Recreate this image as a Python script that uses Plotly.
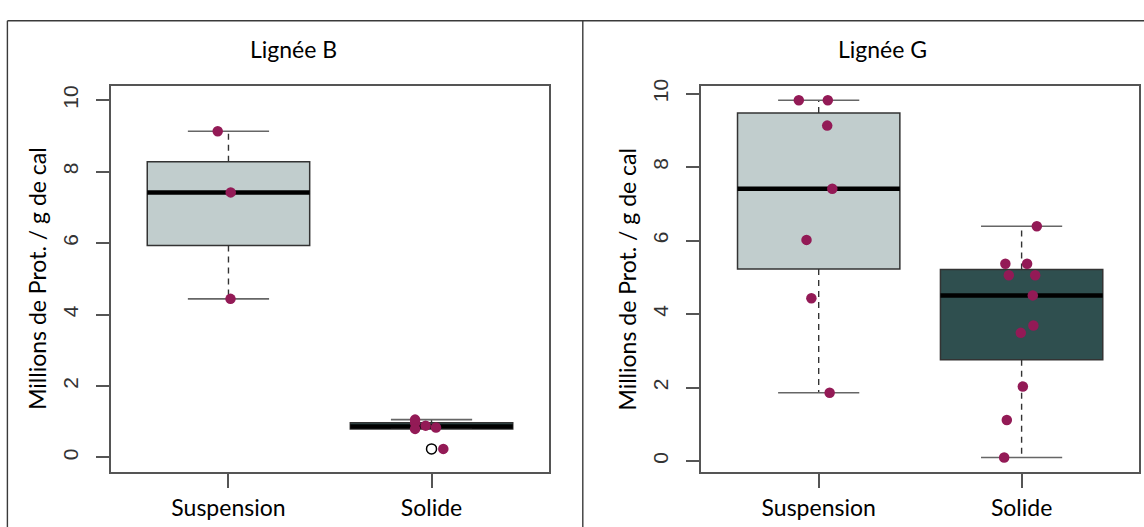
import numpy as np
import plotly.graph_objects as go

# ---------------- data ----------------
categories = ["Suspension", "Solide"]
panel_titles = ["Lignée B", "Lignée G"]
y_title = "Millions de Prot. / g de cal"
y_ticks = [0, 2, 4, 6, 8, 10]

b_suspension = [9.13, 7.42, 4.44]
b_solide = [1.06, 0.97, 0.80, 0.89, 0.84, 0.24]
g_suspension = [9.82, 9.82, 9.13, 7.41, 6.02, 4.43, 1.86]
g_solide = [6.39, 5.37, 5.37, 5.06, 5.06, 4.51, 3.69, 3.49, 2.03, 1.12, 0.10]

# horizontal jitter of the overlaid points (category units)
b_suspension_jitter = [-0.053, 0.011, 0.010]
b_solide_jitter = [-0.081, -0.081, -0.081, -0.029, 0.022, 0.058]
g_suspension_jitter = [-0.098, 0.045, 0.042, 0.067, -0.060, -0.036, 0.054]
g_solide_jitter = [0.075, -0.080, 0.027, -0.063, 0.067, 0.055, 0.058,
                   -0.004, 0.006, -0.073, -0.086]

panels = [
    [(b_suspension, b_suspension_jitter), (b_solide, b_solide_jitter)],
    [(g_suspension, g_suspension_jitter), (g_solide, g_solide_jitter)],
]
y_ranges = [[-0.4, 10.4], [-0.289, 10.209]]

# ---------------- style ----------------
W, H = 1144, 527
box_fill = ["#C1CDCD", "#2F4F4F"]
dot_color = "#931A56"
box_line = "#333333"
frame_col = "#555555"
TXT_FONT = "Lato"
NUM_FONT = "Liberation Sans"
plot_x = [(110.7, 549.3), (701.0, 1139.3)]
plot_top, plot_bot = 80.0, 471.0
title_x = [293.3, 882.5]
ytitle_x = [37.0, 626.7]
BOXW = 0.8


def tukey_stats(values):
    v = np.sort(np.asarray(values, dtype=float))
    n = len(v)
    n4 = np.floor((n + 3) / 2) / 2
    d = np.array([1, n4, (n + 1) / 2, n + 1 - n4, n]) - 1
    five = 0.5 * (v[np.floor(d).astype(int)] + v[np.ceil(d).astype(int)])
    lo_h, med, hi_h = five[1], five[2], five[3]
    iqr = hi_h - lo_h
    lo_f, hi_f = lo_h - 1.5 * iqr, hi_h + 1.5 * iqr
    inside = v[(v >= lo_f) & (v <= hi_f)]
    out = v[(v < lo_f) | (v > hi_f)]
    return lo_h, med, hi_h, inside.min(), inside.max(), out


fig = go.Figure()
for p, groups in enumerate(panels):
    xa = "x" if p == 0 else "x2"
    ya = "y" if p == 0 else "y2"
    for j, (vals, jit) in enumerate(groups):
        pos = j + 1
        lo_h, med, hi_h, w_lo, w_hi, out = tukey_stats(vals)
        # dashed whiskers
        fig.add_trace(go.Scatter(
            x=[pos, pos, None, pos, pos], y=[hi_h, w_hi, None, lo_h, w_lo],
            mode="lines", line=dict(color="#333333", width=1.4, dash="6px,5px"),
            xaxis=xa, yaxis=ya, hoverinfo="skip", showlegend=False))
        # staples
        fig.add_trace(go.Scatter(
            x=[pos - BOXW / 4, pos + BOXW / 4, None, pos - BOXW / 4, pos + BOXW / 4],
            y=[w_hi, w_hi, None, w_lo, w_lo],
            mode="lines", line=dict(color="#666666", width=1.6),
            xaxis=xa, yaxis=ya, hoverinfo="skip", showlegend=False))
        # box
        fig.add_trace(go.Box(
            x=[pos], q1=[lo_h], median=[med], q3=[hi_h],
            lowerfence=[lo_h], upperfence=[hi_h], width=BOXW, whiskerwidth=0,
            fillcolor=box_fill[j], line=dict(color=box_line, width=1.5),
            boxpoints=False, xaxis=xa, yaxis=ya, hoverinfo="skip", showlegend=False))
        # median
        fig.add_trace(go.Scatter(
            x=[pos - BOXW / 2, pos + BOXW / 2], y=[med, med], mode="lines",
            line=dict(color="black", width=4.5),
            xaxis=xa, yaxis=ya, hoverinfo="skip", showlegend=False))
        # outliers
        if len(out):
            fig.add_trace(go.Scatter(
                x=[pos] * len(out), y=list(out), mode="markers",
                marker=dict(symbol="circle-open", size=10, color="black",
                            line=dict(width=1.5, color="black")),
                xaxis=xa, yaxis=ya, hoverinfo="skip", showlegend=False))
        # jittered points
        fig.add_trace(go.Scatter(
            x=[pos + o for o in jit], y=vals, mode="markers",
            marker=dict(size=10.5, color=dot_color),
            xaxis=xa, yaxis=ya, hoverinfo="skip", showlegend=False))

ydom = [1 - plot_bot / H, 1 - plot_top / H]
axis_common = dict(showline=True, mirror=True, linecolor=frame_col, linewidth=1.5,
                   showgrid=False, zeroline=False, ticks="outside",
                   tickcolor=frame_col, tickwidth=1.5)
layout_axes = {}
for p in range(2):
    sfx = "" if p == 0 else "2"
    layout_axes["xaxis" + sfx] = dict(
        axis_common, domain=[plot_x[p][0] / W, plot_x[p][1] / W], range=[0.42, 2.58],
        tickvals=[1, 2], ticktext=categories, ticklen=15,
        tickfont=dict(family=TXT_FONT, size=23, color="black"),
        ticklabelstandoff=0, anchor="y" + sfx, fixedrange=True)
    layout_axes["yaxis" + sfx] = dict(
        axis_common, domain=ydom, range=y_ranges[p], tickvals=y_ticks,
        ticktext=[str(t) for t in y_ticks], ticklen=13, tickangle=-90,
        tickfont=dict(family=NUM_FONT, size=21, color="#333333"),
        ticklabelstandoff=10, anchor="x" + sfx, fixedrange=True)

annotations = []
for p in range(2):
    annotations.append(dict(
        text=panel_titles[p], x=title_x[p] / W, y=1 - 43 / H, xref="paper", yref="paper",
        xanchor="center", yanchor="middle", showarrow=False,
        font=dict(family=TXT_FONT, size=23, color="black")))
    annotations.append(dict(
        text=y_title, x=ytitle_x[p] / W, y=1 - (plot_top + plot_bot) / 2 / H,
        xref="paper", yref="paper", xanchor="center", yanchor="middle",
        textangle=-90, showarrow=False,
        font=dict(family=TXT_FONT, size=23, color="black")))

frame = dict(type="line", xref="paper", yref="paper",
             line=dict(color="#3a3a3a", width=1.4))
shapes = [
    dict(frame, x0=7.4 / W, x1=1, y0=1 - 14 / H, y1=1 - 14 / H),
    dict(frame, x0=7.4 / W, x1=7.4 / W, y0=0, y1=1 - 14 / H),
    dict(frame, x0=582.8 / W, x1=582.8 / W, y0=0, y1=1 - 14 / H),
]

fig.update_layout(
    width=W, height=H, margin=dict(l=0, r=0, t=0, b=0),
    paper_bgcolor="white", plot_bgcolor="white", boxmode="overlay",
    showlegend=False, annotations=annotations, shapes=shapes, **layout_axes)

fig.write_html("out.html")
